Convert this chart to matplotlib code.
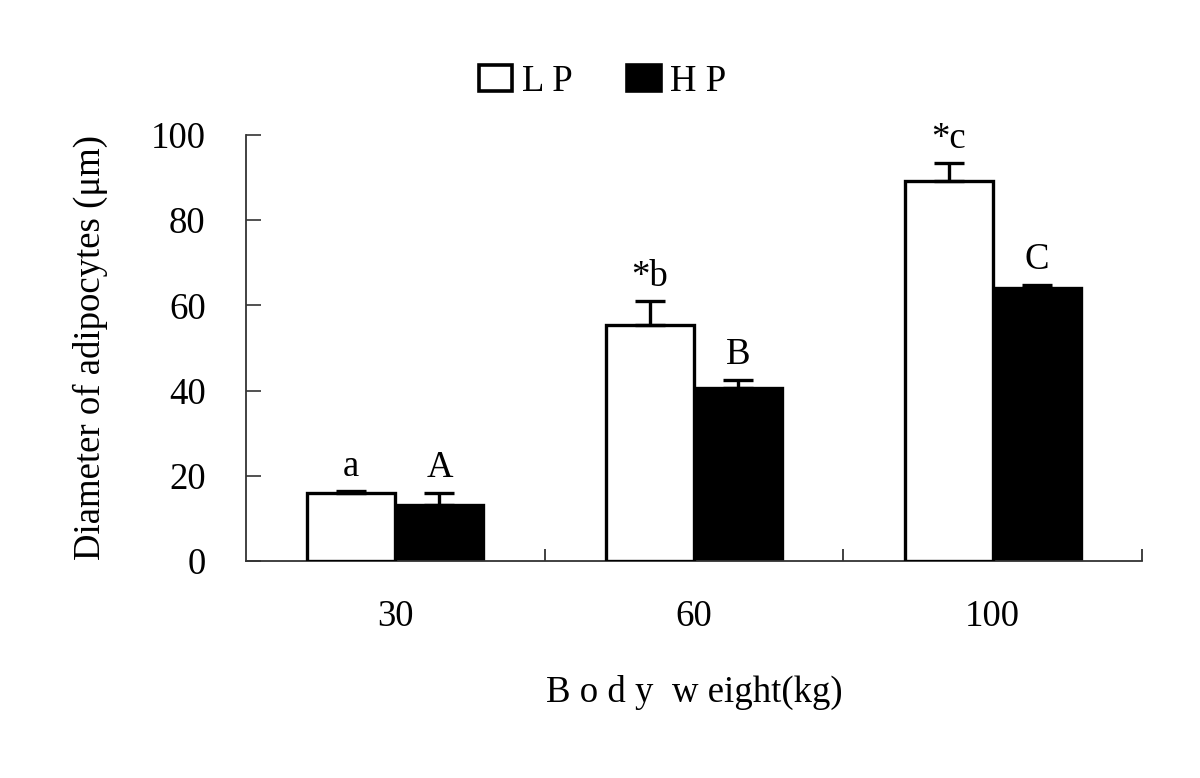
import matplotlib.pyplot as plt
import numpy as np

plt.rcParams['font.family'] = ['Liberation Serif', 'DejaVu Serif']

groups = ['30', '60', '100']
lp_mean = [16.0, 55.4, 89.2]
lp_err = [0.5, 5.6, 4.2]
hp_mean = [13.1, 40.6, 64.1]
hp_err = [2.9, 1.9, 0.7]
lp_marks = ['a', '*b', '*c']
hp_marks = ['A', 'B', 'C']
yticks = [0, 20, 40, 60, 80, 100]

fs = 26.5

fig = plt.figure(figsize=(12, 7.78), dpi=100)
ax = fig.add_axes([0.205, 0.2789, 0.7467, 0.5476])

x = np.arange(len(groups))
w = 0.295
ekw = dict(elinewidth=2.4, capsize=11, capthick=2.4, ecolor='black')
ax.bar(x - w / 2, lp_mean, w, color='white', edgecolor='black', linewidth=2.4,
       yerr=[np.zeros(3), lp_err], error_kw=ekw, label='L P', zorder=3)
ax.bar(x + w / 2, hp_mean, w, color='black', edgecolor='black', linewidth=2.4,
       yerr=[np.zeros(3), hp_err], error_kw=ekw, label='H P', zorder=2)

for i in range(len(groups)):
    ax.annotate(lp_marks[i], (x[i] - w / 2, lp_mean[i] + lp_err[i]), xytext=(0, 5),
                textcoords='offset points', ha='center', va='bottom', fontsize=fs)
    ax.annotate(hp_marks[i], (x[i] + w / 2, hp_mean[i] + hp_err[i]), xytext=(0, 6),
                textcoords='offset points', ha='center', va='bottom', fontsize=fs)

ax.set_xlim(-0.5, 2.5)
ax.set_ylim(0, 100)
ax.set_yticks(yticks)
ax.tick_params(axis='y', labelsize=fs)
ax.set_xticks(x)
ax.set_xticklabels(groups, fontsize=fs)
ax.set_xticks([0.5, 1.5, 2.5], minor=True)
ax.tick_params(axis='x', which='major', length=0, pad=28)
ax.tick_params(axis='x', which='minor', direction='in', length=9, width=1.3, color='#333333')
ax.tick_params(axis='y', direction='in', length=11, width=1.2, pad=29, color='#333333')

for s in ['top', 'right']:
    ax.spines[s].set_visible(False)
for s in ['left', 'bottom']:
    ax.spines[s].set_linewidth(1.3)
    ax.spines[s].set_color('#333333')

ax.set_xlabel('B o d y  w eight(kg)', fontsize=fs, labelpad=29)
ax.set_ylabel('Diameter of adipocytes (\u03bcm)', fontsize=fs, labelpad=31)

leg = ax.legend(loc='center', bbox_to_anchor=(0.398, 1.125), ncol=2, frameon=False,
                fontsize=fs, handlelength=0.9, handleheight=0.7, handletextpad=0.25,
                columnspacing=1.5)
for h in leg.legend_handles:
    h.set_linewidth(2.6)

fig.savefig('out.png', dpi=100)
